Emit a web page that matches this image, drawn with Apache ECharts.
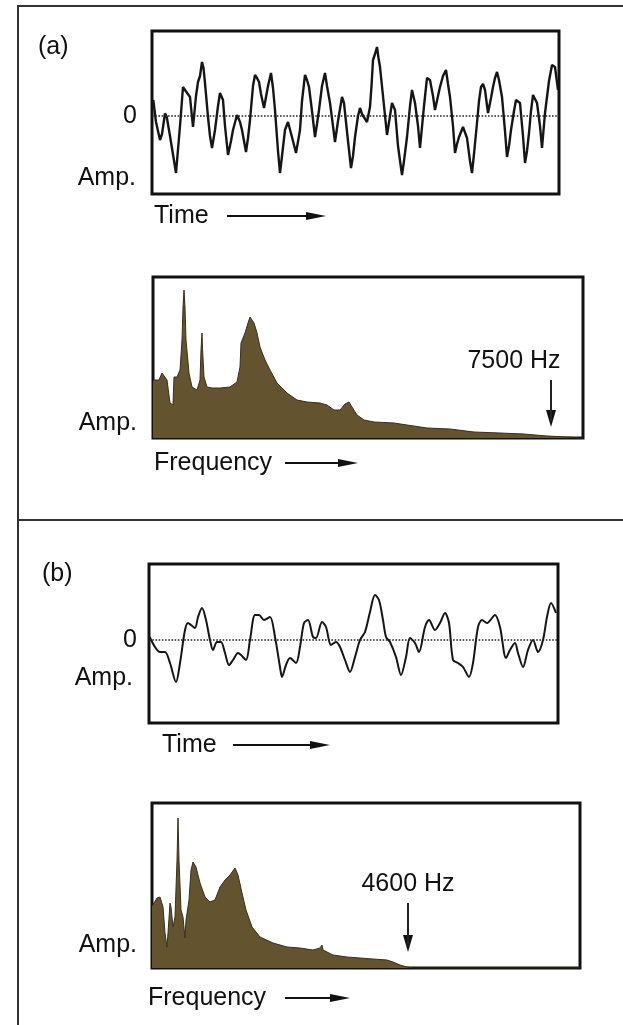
<!DOCTYPE html>
<html><head><meta charset="utf-8">
<script src="https://cdn.jsdelivr.net/npm/echarts@6/dist/echarts.min.js"></script>
<style>html,body{margin:0;padding:0;background:#fff}#c{width:623px;height:1025px}</style>
</head><body><div id="c"></div>
<script>
// Time waveform (a): [time, amplitude] (arbitrary units)
const waveA = [[1.3,16],[4,-6],[8,-24],[10,-18],[13,2.7],[14.7,-0.7],[18,-20],[24,-57],[28,-10],[31,29],[33,26],[35,28],[38,19],[41,-11],[44,20],[46,34],[48,40],[50,54],[51.5,48],[53,33],[56,-1],[58,-20],[60,-32],[63,-14],[66,10],[68,23],[71,16],[73,-10],[76,-39],[79,-25],[81,-14],[85,1],[88,-6],[90,-14],[94,-36],[96,-22],[98,-4],[101,30],[103,41],[105,38],[107,34],[109,22],[112,8],[116,30],[119,43],[121,28],[123,6],[126,-35],[128,-57],[130,-40],[133,-14],[136,-6],[138,-4],[141,-25],[144,-37],[148,-14],[150,15],[153,41],[155,36],[157,29],[160,5],[163,-21],[165,-8],[167,6],[170,30],[173,43],[175,30],[178,13],[181,-10],[183,-26],[186,-5],[190,19],[192,13],[196,-25],[199,-52],[201,-40],[203,-21],[206,0],[208,8],[210,2],[212,3],[215,-6],[218,9],[219.5,30],[221,56],[223,62],[225,69],[226.5,58],[228,49],[231,20],[235,-19],[238,0],[240,13],[243,6],[246,-30],[250,-59],[252,-45],[255,-21],[258,10],[260,26],[263,13],[266,-10],[268,-32],[272,10],[275,38],[278,36],[281,20],[283,6],[286,20],[288,29],[291,40],[294,46],[296,32],[298,19],[301,-10],[303,-37],[305,-28],[307,-21],[311,-11],[315,-22],[318,-45],[320,-57],[322,-38],[325,-7],[327,15],[329,29],[331,32],[333,26],[336,3],[339,18],[341,29],[343,38],[345,44],[347,36],[350,19],[353,-15],[355,-41],[357,-30],[359,-14],[362,5],[364,16],[368,13],[371,-20],[373,-47],[375,-35],[377,-17],[379,5],[381,21],[385,13],[388,-10],[390,-32],[393,3],[397,35],[400,51],[403,49],[406,26]];
// Time waveform (b)
const waveB = [[0.7,3],[6,-7],[11,-12],[16,-12],[21,-23],[27,-42],[31,-23],[36,10],[39,17],[42,15],[46,12],[49,23],[53,32],[57,20],[61,0],[64,-10],[68,-2],[72,-2],[76,-13],[80,-25],[84,-20],[89,-13],[92,-15],[97,-20],[101,0],[106,25],[110,25],[115,20],[121,23],[126,3],[131,-27],[133,-37],[137,-25],[141,-18],[147,-23],[151,-7],[155,17],[159,20],[164,3],[167,2],[173,18],[177,13],[182,-5],[187,-2],[191,-7],[196,-20],[201,-32],[206,-17],[211,0],[216,8],[221,28],[226,45],[230,40],[234,20],[237,3],[241,-2],[247,-17],[252,-35],[257,-17],[261,2],[266,-3],[270,-12],[276,13],[280,20],[286,10],[291,17],[296,27],[300,17],[304,-20],[309,-23],[314,-27],[320,-37],[324,-23],[329,13],[333,20],[338,17],[346,25],[351,13],[357,-18],[361,-10],[366,-3],[369,-13],[374,-27],[379,-10],[384,0],[389,-12],[394,0],[398,23],[402,37],[407,27]];
// Spectrum (a): [frequency, amplitude]
const specA = [[0,58],[1,58],[6,58],[9,65],[11,66],[14,58],[17,35],[20,33],[21,61],[24,61],[27,68],[29,98],[30,131],[31,148],[32,131],[33,98],[36,65],[39,51],[44,48],[47,58],[48,88],[49,105],[49.6,88],[51,61],[54,51],[59,50],[67,50],[77,51],[84,56],[87,71],[88,95],[92,105],[95,115],[97,121],[101,115],[104,105],[107,91],[112,78],[117,68],[124,55],[134,45],[144,38],[154,36],[167,35],[174,33],[181,28],[187,28],[192,34],[196,36],[199,31],[204,23],[211,18],[221,16],[241,15],[254,13],[274,10],[297,9],[321,6],[347,5],[371,4],[394,2],[414,1],[427,0],[430,0]];
// Spectrum (b)
const specB = [[0,62],[2,65],[5,70],[8,71],[11,61],[13,35],[15,21],[16,35],[18,65],[19,61],[21,41],[23,51],[25,108],[26,150],[27,108],[29,58],[31,51],[33,30],[34,48],[35,48],[37,68],[39,98],[41,106],[44,101],[48,85],[53,71],[58,66],[63,68],[68,81],[73,88],[78,93],[83,100],[86,93],[90,75],[94,58],[100,41],[108,31],[121,25],[135,21],[148,20],[161,18],[168,20],[170,23],[171,18],[181,13],[195,11],[208,10],[221,9],[235,8],[241,6],[248,3],[255,1],[261,0],[428,0]];
// Cut-off markers
const cutA = {label:'7500 Hz', x:398, from:58, to:11};
const cutB = {label:'4600 Hz', x:256, from:65, to:16};

const FONT = '"Liberation Sans", Arial, Helvetica, sans-serif';
const FS = 25;
const grids = [
  {left:152, top:31, width:407, height:163},
  {left:153, top:277, width:430, height:161},
  {left:149, top:564, width:409, height:159},
  {left:152, top:803, width:428, height:165}
].map(g => Object.assign(g, {show:true, borderColor:'#111', borderWidth:3, backgroundColor:'#fff'}));

function xa(i, max){ return {type:'value', gridIndex:i, min:0, max:max, show:false}; }
function ya(i, min, max, showZero, margin){
  return {type:'value', gridIndex:i, min:min, max:max, interval: showZero ? -min : undefined,
    axisLine:{show:false}, axisTick:{show:false}, splitLine:{show:false},
    axisLabel:{show:showZero, margin:margin, fontSize:FS, color:'#111', fontFamily:FONT,
      showMinLabel:false, showMaxLabel:false,
      formatter: v => v === 0 ? '0' : ''}};
}
const zeroLine = {silent:true, symbol:'none', label:{show:false},
  lineStyle:{type:'dotted', color:'#222', width:1.6}, data:[{yAxis:0}]};
function cutLine(c, pad){
  return {silent:true, symbol:'none',
    lineStyle:{type:'solid', color:'#222', width:2},
    label:{show:true, position:'start', formatter:c.label, fontSize:FS, color:'#111',
      fontFamily:FONT, distance:6, padding:pad},
    data:[[{coord:[c.x, c.from]},{coord:[c.x, c.to + 6]}]]};
}
const fillColor = '#63532f';
const series = [
  {type:'line', xAxisIndex:0, yAxisIndex:0, data:waveA, symbol:'none', smooth:false,
    lineStyle:{color:'#151515', width:2.4}, markLine:zeroLine},
  {type:'line', xAxisIndex:1, yAxisIndex:1, data:specA, symbol:'none',
    lineStyle:{color:'#3a2f1b', width:1}, areaStyle:{color:fillColor, opacity:1},
    markLine:cutLine(cutA, [0,74,0,0])},
  {type:'line', xAxisIndex:2, yAxisIndex:2, data:waveB, symbol:'none', smooth:0.3,
    lineStyle:{color:'#151515', width:2}, markLine:zeroLine},
  {type:'line', xAxisIndex:3, yAxisIndex:3, data:specB, symbol:'none',
    lineStyle:{color:'#3a2f1b', width:1}, areaStyle:{color:fillColor, opacity:1},
    markLine:cutLine(cutB, [0,0,0,0])}
];

function txt(x, y, s, align){
  return {type:'text', x:x, y:y, style:{text:s, fontSize:FS, fontFamily:FONT, fill:'#111',
    textAlign:align||'left', textVerticalAlign:'middle'}};
}
function arrow(x1, x2, y){
  return [{type:'line', shape:{x1:x1, y1:y, x2:x2-16, y2:y}, style:{stroke:'#111', lineWidth:2}},
    {type:'polygon', shape:{points:[[x2-20,y-4],[x2,y],[x2-20,y+4]]}, style:{fill:'#111'}}];
}
const graphic = [
  {type:'line', shape:{x1:17, y1:6, x2:623, y2:6}, style:{stroke:'#333', lineWidth:2}},
  {type:'line', shape:{x1:18, y1:6, x2:18, y2:1025}, style:{stroke:'#333', lineWidth:2}},
  {type:'line', shape:{x1:18, y1:520, x2:623, y2:520}, style:{stroke:'#333', lineWidth:2}},
  txt(38, 47, '(a)'),
  txt(136, 178, 'Amp.', 'right'),
  txt(154, 216, 'Time'),
  ...arrow(227, 326, 216),
  txt(137, 423, 'Amp.', 'right'),
  txt(154, 463, 'Frequency'),
  ...arrow(285, 358, 463),
  txt(42, 574, '(b)'),
  txt(133, 678, 'Amp.', 'right'),
  txt(162, 745, 'Time'),
  ...arrow(233, 330, 745),
  txt(137, 945, 'Amp.', 'right'),
  txt(148, 998, 'Frequency'),
  ...arrow(285, 350, 998)
];

const chart = echarts.init(document.getElementById('c'), null, {renderer:'canvas'});
chart.setOption({
  backgroundColor:'#fff',
  animation:false,
  grid:grids,
  xAxis:[xa(0,407), xa(1,430), xa(2,409), xa(3,428)],
  yAxis:[ya(0,-78,85,true,15), ya(1,0,161,false,0), ya(2,-83,76,true,12), ya(3,0,165,false,0)],
  series:series,
  graphic:graphic
});
// Arrowheads for the cut-off markers, placed through the chart's own scales
function head(gridIndex, c){
  const p = chart.convertToPixel({gridIndex:gridIndex}, [c.x, c.to]);
  return {type:'polygon', shape:{points:[[p[0]-5,p[1]-17],[p[0]+5,p[1]-17],[p[0],p[1]]]}, style:{fill:'#111'}};
}
chart.setOption({graphic: graphic.concat([head(1, cutA), head(3, cutB)])});
</script></body></html>
